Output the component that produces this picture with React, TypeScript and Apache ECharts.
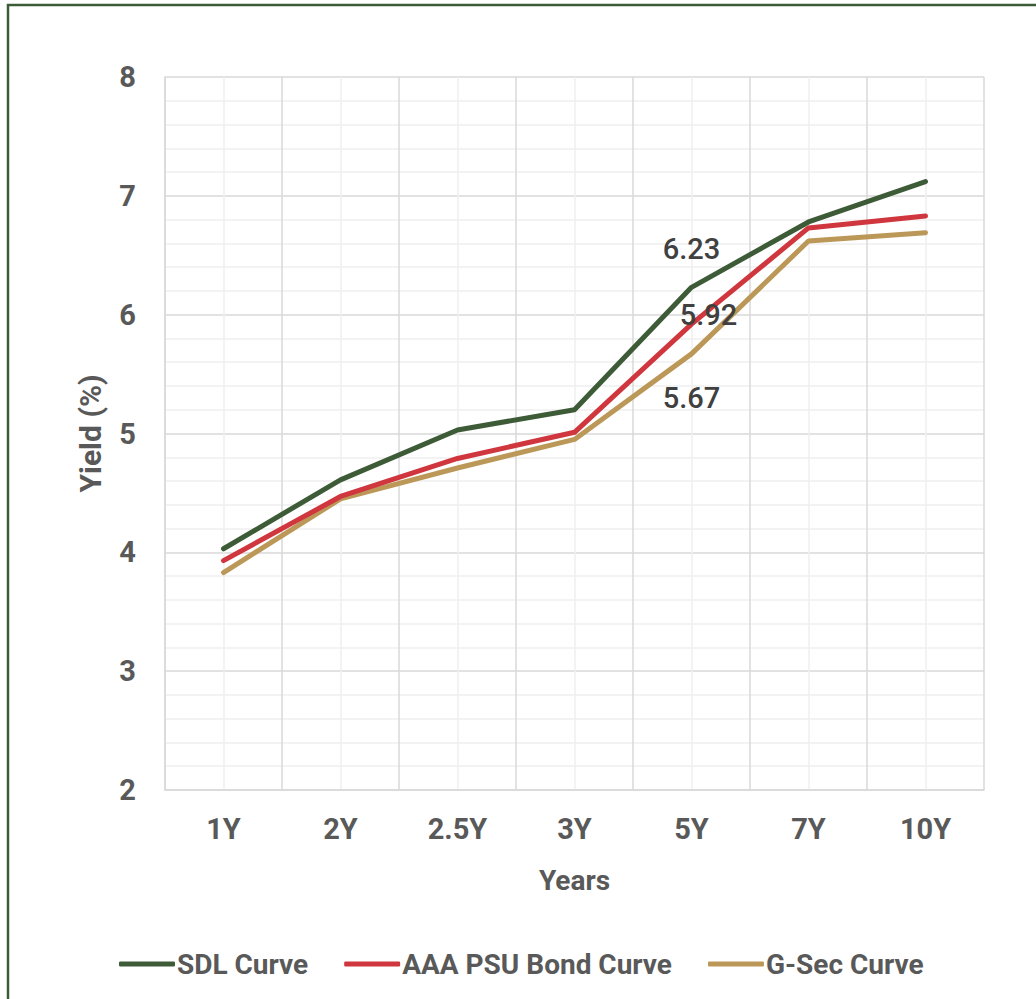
import React, { useEffect, useRef } from "react";
import * as echarts from "echarts";

const categories = ["1Y", "2Y", "2.5Y", "3Y", "5Y", "7Y", "10Y"];
const sdl = [4.03, 4.61, 5.03, 5.2, 6.23, 6.78, 7.12];
const aaa = [3.93, 4.47, 4.79, 5.01, 5.92, 6.73, 6.83];
const gsec = [3.83, 4.45, 4.71, 4.95, 5.67, 6.62, 6.69];
const seriesNames = ["SDL Curve", "AAA PSU Bond Curve", "G-Sec Curve"];
const labelIndex = 4;

const FONT = "Roboto, 'DejaVu Sans', sans-serif";
const TXT = "#595959";

export default function App() {
  const ref = useRef<HTMLDivElement>(null);
  useEffect(() => {
    if (!ref.current) return;
    const chart = echarts.init(ref.current, null, { renderer: "svg" });
    const mk = (vals: number[], pos: any) =>
      vals.map((v, i) =>
        i === labelIndex
          ? {
              value: v,
              label: {
                show: true,
                ...pos,
                fontSize: 29,
                fontWeight: 500,
                color: "#404040",
                fontFamily: FONT,
                formatter: (p: any) => Number(p.value).toFixed(2),
              },
            }
          : v
      );
    const common = {
      type: "line",
      xAxisIndex: 0,
      symbol: "circle",
      symbolSize: 1,
      showSymbol: true,
    };
    chart.setOption({
      animation: false,
      backgroundColor: "#ffffff",
      textStyle: { fontFamily: FONT },
      graphic: [
        {
          type: "rect",
          shape: { x: 8, y: 5, width: 1200, height: 1200 },
          style: { fill: "none", stroke: "#3e5b38", lineWidth: 2.5 },
          silent: true,
        },
      ],
      grid: { left: 165, top: 77, width: 819, height: 713, containLabel: false },
      legend: {
        left: 114,
        top: 945,
        itemWidth: 56,
        itemHeight: 5,
        itemGap: 36,
        icon: "roundRect",
        textStyle: { fontSize: 28, fontWeight: "bold", color: TXT, fontFamily: FONT, padding: [0, 0, 0, -3] },
        data: seriesNames,
      },
      xAxis: [
        {
          type: "category",
          data: categories,
          boundaryGap: true,
          axisLine: { show: true, lineStyle: { color: "#d9d9d9", width: 1.5 } },
          axisTick: { show: false },
          splitLine: { show: false },
          axisLabel: { fontSize: 29, fontWeight: "bold", color: TXT, margin: 24, fontFamily: FONT },
          name: "Years",
          nameLocation: "middle",
          nameGap: 76,
          nameTextStyle: { fontSize: 28, fontWeight: "bold", color: TXT, fontFamily: FONT },
        },
        {
          type: "value",
          min: 0,
          max: 7,
          interval: 1,
          position: "top",
          axisLine: { show: false },
          axisTick: { show: false },
          axisLabel: { show: false },
          minorTick: { show: false, splitNumber: 2 },
          splitLine: { show: true, lineStyle: { color: "#d9d9d9", width: 1.5 } },
          minorSplitLine: { show: true, lineStyle: { color: "#efefef", width: 1.5 } },
        },
      ],
      yAxis: {
        type: "value",
        min: 2,
        max: 8,
        interval: 1,
        axisLine: { show: true, lineStyle: { color: "#d9d9d9", width: 1.5 } },
        axisTick: { show: false },
        axisLabel: { fontSize: 29, fontWeight: "bold", color: TXT, margin: 29, fontFamily: FONT },
        minorTick: { show: false, splitNumber: 5 },
        splitLine: { show: true, lineStyle: { color: "#d9d9d9", width: 1.5 } },
        minorSplitLine: { show: true, lineStyle: { color: "#efefef", width: 1.5 } },
        name: "Yield (%)",
        nameLocation: "middle",
        nameGap: 60,
        nameTextStyle: { fontSize: 30, fontWeight: "bold", color: TXT, fontFamily: FONT },
      },
      series: [
        {
          ...common,
          name: seriesNames[0],
          data: mk(sdl, { position: "top", distance: 23 }),
          lineStyle: { color: "#3e5b38", width: 5, cap: "round", join: "round" },
          itemStyle: { color: "#3e5b38" },
          z: 4,
        },
        {
          ...common,
          name: seriesNames[1],
          data: mk(aaa, { position: "inside", offset: [17, -9] }),
          lineStyle: { color: "#d0363d", width: 5, cap: "round", join: "round" },
          itemStyle: { color: "#d0363d" },
          z: 3,
        },
        {
          ...common,
          name: seriesNames[2],
          data: mk(gsec, { position: "bottom", distance: 29 }),
          lineStyle: { color: "#bb9858", width: 5, cap: "round", join: "round" },
          itemStyle: { color: "#bb9858" },
          z: 2,
        },
      ],
    });
    return () => chart.dispose();
  }, []);
  return (
    <div
      ref={ref}
      style={{ position: "absolute", left: 0, top: 0, width: 1036, height: 999 }}
    />
  );
}
